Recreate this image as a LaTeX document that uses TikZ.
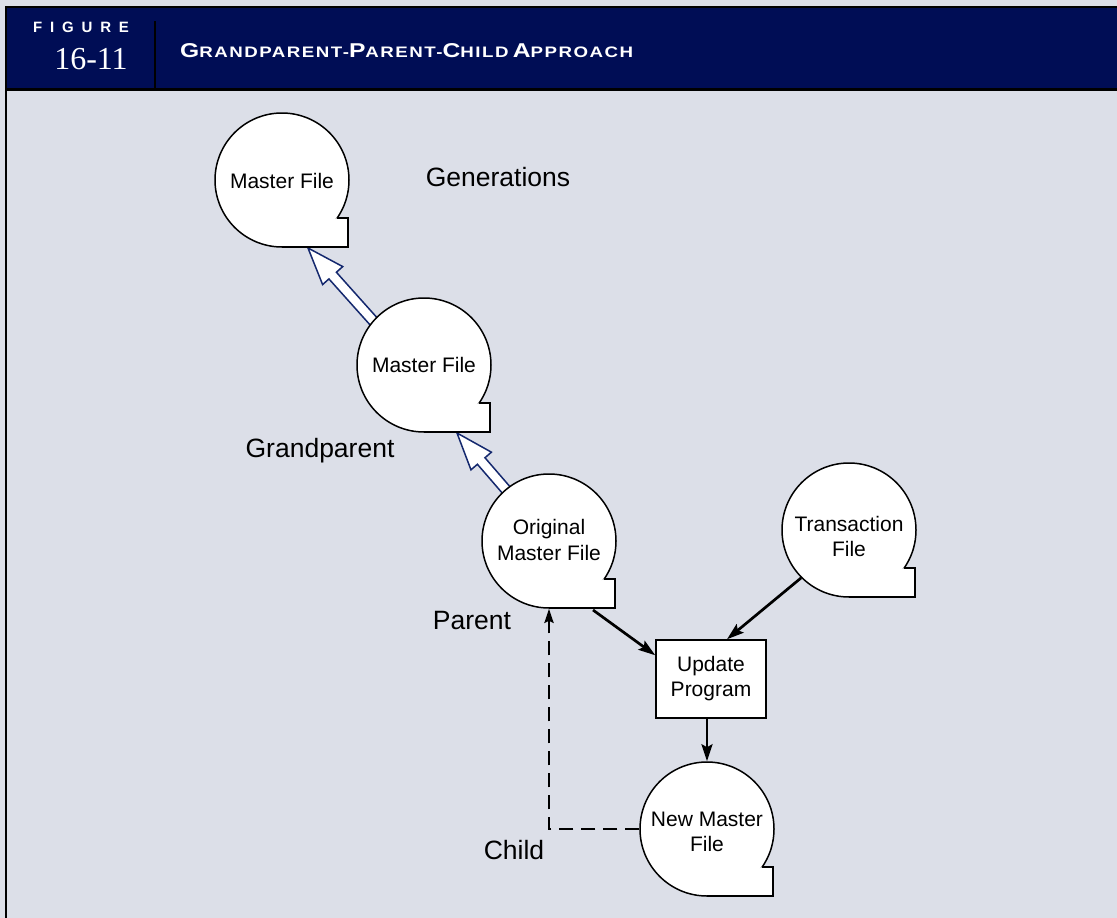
\documentclass[tikz,border=0pt]{standalone}
\usepackage{fontspec}
\usepackage{graphicx}
\setmainfont{Liberation Sans}
\newfontfamily\serifnum{Liberation Serif}
\newfontfamily\titlefont[LetterSpace=8]{Liberation Sans Bold}
\usetikzlibrary{calc,arrows.meta}
\definecolor{navyhdr}{RGB}{0,13,85}
\definecolor{bodybg}{RGB}{220,223,232}
\definecolor{arrowblue}{RGB}{20,40,110}
\pgfdeclarelayer{back}
\pgfdeclarelayer{bg}
\pgfsetlayers{back,bg,main}
\tikzset{
  tapecirc/.style={circle, draw, fill=white, line width=1.5pt, minimum size=134pt, inner sep=0pt},
  tapetext/.style={align=center, inner sep=0pt, font=\fontsize{21}{25.5}\selectfont},
  tapeline/.style={line width=1.5pt, line join=miter},
  procbox/.style={rectangle, draw, fill=white, line width=1.5pt, minimum width=110pt, minimum height=78pt, inner sep=0pt, align=center, font=\fontsize{21}{25}\selectfont},
  flow/.style={line width=2.7pt, -{Stealth[length=17pt,width=11pt,inset=3pt]}},
  dashflow/.style={line width=2.8pt, dash pattern=on 14pt off 8pt, -{Stealth[length=14pt,width=9pt,inset=2pt]}},
  hollow/.style={fill=white, draw=arrowblue, line width=1.5pt, line join=miter},
  lbl/.style={font=\fontsize{26.5}{30}\selectfont, anchor=base, inner sep=0pt},
}
% name, centre, text, text offset
\newcommand{\tapefile}[4]{%
  \node[tapecirc] (#1) at (#2) {};
  \fill[white] ($(#1.center)+(55.2,38)$) -- ++(11,0) -- ++(0,29) -- ($(#1.center)+(0,67)$) -- cycle;
  \draw[tapeline] ($(#1.center)+(55.2,38)$) -- ++(11,0) -- ++(0,29) -- ($(#1.center)+(0,67)$);
  \node[tapetext] (#1-text) at ($(#1.center)+(#4)$) {#3};
}
\newcommand{\hollowarrow}[2]{%
  \begin{pgfonlayer}{bg}
  \coordinate (ha-s) at (#1);
  \coordinate (ha-t) at (#2);
  \coordinate (ha-h) at ($(ha-t)!37pt!(ha-s)$);
  \filldraw[hollow] ($(ha-s)!5pt!90:(ha-t)$) -- ($(ha-h)!5pt!90:(ha-t)$) -- ($(ha-h)!13.5pt!90:(ha-t)$) -- (ha-t)
     -- ($(ha-h)!13.5pt!-90:(ha-t)$) -- ($(ha-h)!5pt!-90:(ha-t)$) -- ($(ha-s)!5pt!-90:(ha-t)$) -- cycle;
  \end{pgfonlayer}
}
\newcommand{\bigc}[1]{{\fontsize{20}{22}\selectfont #1}}
\newcommand{\smc}[1]{{\fontsize{15.2}{17}\selectfont #1}}
\begin{document}
\begin{tikzpicture}[x=1pt,y=-1pt]
\useasboundingbox (0,0) rectangle (1117,918);
\begin{pgfonlayer}{back}
\fill[bodybg] (0,0) rectangle (1117,918);
\fill[navyhdr] (6,7) rectangle (1117,89.5);
\draw[line width=2.5pt] (6,918) -- (6,7) -- (1117,7);
\draw[line width=3pt] (6,89.5) -- (1117,89.5);
\draw[line width=2.5pt] (155,21) -- (155,89);
\end{pgfonlayer}
% header texts
\node[white, anchor=base, inner sep=0pt, font=\bfseries\fontsize{15}{15}\selectfont] (figlbl) at (81,32) {\makebox[96pt][s]{F\hfill I\hfill G\hfill U\hfill R\hfill E}};
\node[white, anchor=base, inner sep=0pt, font=\serifnum\fontsize{32}{32}\selectfont] (fignum) at (91,69) {16-11};
\node[white, anchor=base west, inner sep=0pt, font=\titlefont] (title) at (180,57.5) {\resizebox{453pt}{\height}{\bigc{G}\smc{RANDPARENT-}\bigc{P}\smc{ARENT-}\bigc{C}\smc{HILD} \bigc{A}\smc{PPROACH}}};
% files
\tapefile{gen3}{282,180}{Master File}{0,1}
\tapefile{gp}{424,365}{Master File}{0,0}
\tapefile{orig}{549,541}{Original\\Master File}{0,-1}
\tapefile{trans}{849,530}{Transaction\\File}{0,6.5}
\node[procbox] (upd) at (711,679) {Update\\Program};
\tapefile{newm}{707,829}{New Master\\File}{0,3}
% labels
\node[lbl] (lgen) at (498,186.5) {Generations};
\node[lbl] (lgp) at (320,457) {Grandparent};
\node[lbl] (lpar) at (472,629.5) {Parent};
\node[lbl] (lchild) at (514,859.5) {Child};
% hollow generation arrows
\coordinate (tipA) at ($(gen3.center)+(26,68)$);
\coordinate (tailA) at ($(gp.139)!-10pt!(tipA)$);
\hollowarrow{tailA}{tipA}
\coordinate (tipB) at ($(gp.center)+(33,68)$);
\coordinate (tailB) at ($(orig.130)!-10pt!(tipB)$);
\hollowarrow{tailB}{tipB}
% flows
\draw[flow] ($(orig.center)+(44,69)$) -- ($(upd.north west)+(0,16)$);
\draw[flow] (trans.225) -- ($(upd.north)+(16,0)$);
\draw[flow] (upd.south -| newm.north) -- (newm.north);
\draw[dashflow] (newm.west) -| (orig.south);
\end{tikzpicture}
\end{document}
